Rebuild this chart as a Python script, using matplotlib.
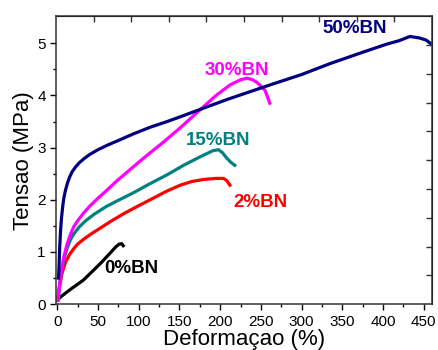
import matplotlib
matplotlib.use("Agg")
import matplotlib.pyplot as plt
import numpy as np

plt.rcParams["font.family"] = ["Liberation Sans", "DejaVu Sans"]

# stress-strain curves
strain_0 = [0, 5, 15, 32, 53, 65, 72, 76, 79, 81]
stress_0 = [0.08, 0.15, 0.27, 0.46, 0.78, 0.98, 1.1, 1.15, 1.16, 1.12]

strain_2 = [0, 3, 6, 10, 15, 20, 25, 32, 42, 53, 65, 80, 93, 114, 135, 151, 165, 180, 195, 204, 208, 212]
stress_2 = [0.07, 0.35, 0.6, 0.8, 0.95, 1.06, 1.15, 1.24, 1.35, 1.46, 1.58, 1.72, 1.83, 2.0, 2.17, 2.28, 2.35, 2.39, 2.41, 2.41, 2.37, 2.28]

strain_15 = [1, 3, 5, 8, 12, 16, 20, 27, 35, 45, 60, 75, 93, 114, 135, 155, 175, 191, 198, 203, 208, 213, 218]
stress_15 = [0.08, 0.4, 0.62, 0.85, 1.07, 1.23, 1.34, 1.48, 1.6, 1.72, 1.87, 1.99, 2.13, 2.31, 2.48, 2.66, 2.82, 2.94, 2.96, 2.9, 2.8, 2.72, 2.66]

strain_30 = [1, 3, 5, 8, 12, 16, 20, 26, 32, 40, 50, 60, 73, 85, 100, 114, 130, 151, 175, 195, 212, 225, 233, 240, 245, 250, 255, 258, 261]
stress_30 = [0.08, 0.4, 0.65, 0.9, 1.15, 1.33, 1.48, 1.62, 1.74, 1.88, 2.03, 2.17, 2.36, 2.52, 2.72, 2.9, 3.1, 3.38, 3.72, 4.0, 4.2, 4.3, 4.33, 4.3, 4.25, 4.18, 4.1, 3.98, 3.85]

strain_50 = [1.6, 2.2, 3, 4, 5, 6.5, 8, 10, 12.5, 15, 18, 22, 27, 33, 40, 50, 62, 77, 93, 114, 135, 151, 175, 210, 261, 300, 335, 370, 404, 420, 433, 445, 453, 458]
stress_50 = [0.5, 0.75, 1.1, 1.4, 1.62, 1.85, 2.03, 2.18, 2.32, 2.43, 2.53, 2.62, 2.71, 2.79, 2.87, 2.96, 3.05, 3.15, 3.26, 3.39, 3.5, 3.59, 3.73, 3.93, 4.2, 4.4, 4.61, 4.8, 4.98, 5.05, 5.13, 5.1, 5.06, 5.0]

labels = ["0%BN", "2%BN", "15%BN", "30%BN", "50%BN"]
colors = ["#000000", "#FF0000", "#008080", "#FF00FF", "#000080"]
label_pos = [(91, 0.69), (249, 1.95), (197, 3.14), (220, 4.48), (365, 5.29)]

fig = plt.figure(figsize=(4.38, 3.5), dpi=100)
ax = fig.add_axes([0.128, 0.131, 0.858, 0.823])

curves = [(strain_0, stress_0), (strain_2, stress_2), (strain_15, stress_15),
          (strain_30, stress_30), (strain_50, stress_50)]
for (x, y), c in zip(curves, colors):
    ax.plot(x, y, color=c, lw=2.3, solid_joinstyle="round")

for lab, c, (tx, ty) in zip(labels, colors, label_pos):
    ax.text(tx, ty, lab, color=c, fontsize=13.5, fontweight="bold",
            ha="center", va="center")

x0, x1 = -1.5, 460
y0, y1 = 0, 5.52
ax.set_xlim(x0, x1)
ax.set_ylim(y0, y1)
ax.set_xticks(np.arange(0, 451, 50))
ax.set_xticks(np.arange(25, 451, 50), minor=True)
ax.set_yticks(np.arange(0, 6, 1))
ax.set_yticks(np.arange(0.5, 5.5, 1), minor=True)
ax.tick_params(which="major", direction="out", length=4, width=1, labelsize=11)
ax.tick_params(which="minor", direction="out", length=2.5, width=1)
for s in ax.spines.values():
    s.set_linewidth(1.1)
    s.set_color("#333333")

# top / right ticks in Origin style: ten equal divisions, inward
top = ax.secondary_xaxis("top", functions=(lambda v: (v - x0) / (x1 - x0),
                                           lambda f: x0 + f * (x1 - x0)))
top.set_xticks(np.arange(0.1, 0.95, 0.1))
top.tick_params(direction="in", length=4, width=1, color="#333333", labeltop=False)
right = ax.secondary_yaxis("right", functions=(lambda v: (v - y0) / (y1 - y0),
                                               lambda f: y0 + f * (y1 - y0)))
right.set_yticks(np.arange(0.1, 0.95, 0.1))
right.tick_params(direction="in", length=4, width=1, color="#333333", labelright=False)

ax.set_xlabel("Deformaçao (%)", fontsize=16, labelpad=0)
ax.set_ylabel("Tensao (MPa)", fontsize=16, labelpad=2)

fig.savefig("out.png", dpi=100)
